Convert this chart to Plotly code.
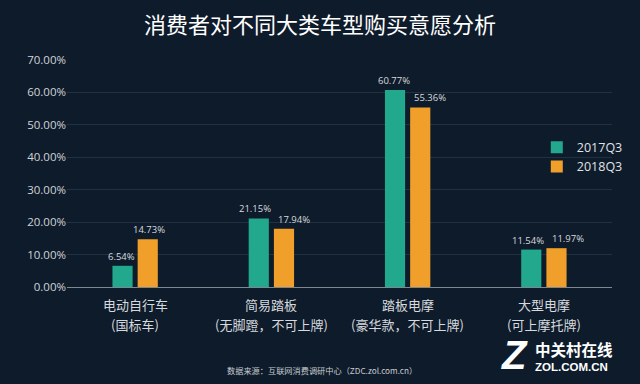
import plotly.graph_objects as go

categories = ["电动自行车", "简易踏板", "踏板电摩", "大型电摩"]
subtitles = ["(国标车)", "(无脚蹬，不可上牌)", "(豪华款，不可上牌)", "(可上摩托牌)"]
series_names = ["2017Q3", "2018Q3"]
values_2017 = [6.54, 21.15, 60.77, 11.54]
values_2018 = [14.73, 17.94, 55.36, 11.97]
y_ticks = [0, 10, 20, 30, 40, 50, 60, 70]
# label nudges (px) used in the reference to keep neighbouring labels apart
label_nudge_2017 = [0, -2, 0, -2]
label_nudge_2018 = [0, 9, 8, 10]

BG = "#0e1b2b"
TEAL = "#22a88c"
ORANGE = "#f0a02a"
FONT = "Noto Sans CJK SC"
BAR_OFFSET = 14  # half distance between paired bar centres, px

fig = go.Figure()
for name, vals, col in [(series_names[0], values_2017, TEAL), (series_names[1], values_2018, ORANGE)]:
    fig.add_trace(go.Bar(
        x=categories, y=[v / 100 for v in vals], name=name,
        marker=dict(color=col, line=dict(width=0)),
    ))

annotations = []
for vals, nudges, sign in [(values_2017, label_nudge_2017, -1), (values_2018, label_nudge_2018, 1)]:
    for c, v, n in zip(categories, vals, nudges):
        annotations.append(dict(x=c, xref="x", y=v / 100, yref="y", yanchor="bottom",
                                xshift=sign * BAR_OFFSET + n, yshift=1,
                                text=f"{v:.2f}%", showarrow=False,
                                font=dict(size=9.5, color="#d6dade", family="Open Sans")))
for c, s in zip(categories, subtitles):
    annotations.append(dict(x=c, xref="x", yref="paper", y=-0.075, yanchor="middle", text=c,
                            showarrow=False, font=dict(size=13, color="#d6dade", family=FONT)))
    annotations.append(dict(x=c, xref="x", yref="paper", y=-0.167, yanchor="middle", text=s,
                            showarrow=False, font=dict(size=13, color="#d6dade", family=FONT)))
annotations.append(dict(x=0.468, xref="paper", xanchor="center", yref="paper", y=-0.366, yanchor="middle",
                        text="数据来源：互联网消费调研中心（ZDC.zol.com.cn）", showarrow=False,
                        font=dict(size=8.2, color="#c8ccd0", family=FONT)))
annotations.append(dict(x=1.005, xref="paper", xanchor="right", yref="paper", y=-0.303, yanchor="middle",
                        text="<b><span style='font-size:15.5px;font-family:\"Noto Sans CJK SC\"'>中关村在线</span>"
                             "<br>ZOL.COM.CN</b>",
                        showarrow=False, align="left",
                        font=dict(size=11.5, color="#ffffff", family="Liberation Sans")))
annotations.append(dict(x=0.85, xref="paper", xanchor="right", yref="paper", y=-0.30, yanchor="middle",
                        text="<b><i>Z</i></b>", showarrow=False,
                        font=dict(size=40, color="#ffffff", family="Liberation Sans")))

fig.update_layout(
    width=640, height=384,
    paper_bgcolor=BG, plot_bgcolor=BG,
    margin=dict(l=67, r=21, t=60, b=97),
    title=dict(text="消费者对不同大类车型购买意愿分析", x=0.5, xanchor="center", y=0.935, yanchor="middle",
               font=dict(size=22, color="#ffffff", family=FONT)),
    barmode="group", bargap=0.63, bargroupgap=0.2,
    showlegend=True,
    legend=dict(x=0.862, y=0.68, xanchor="left", yanchor="top", bgcolor="rgba(0,0,0,0)",
                font=dict(size=12.5, color="#e0e3e6", family="Open Sans"),
                tracegroupgap=2),
    xaxis=dict(showticklabels=False, showline=True, linecolor="#7d8893", linewidth=1,
               ticks="", showgrid=False),
    yaxis=dict(range=[0, 0.70], tickvals=[t / 100 for t in y_ticks], tickformat=".2%",
               showgrid=True, gridcolor="#223142", gridwidth=1, zeroline=False,
               tickfont=dict(size=11.5, color="#d0d4d8", family="Open Sans"), ticklen=0),
    annotations=annotations,
)
fig.write_html("out.html", config={"displayModeBar": False},
               post_script="document.body.style.margin='0';document.body.style.overflow='hidden';")
